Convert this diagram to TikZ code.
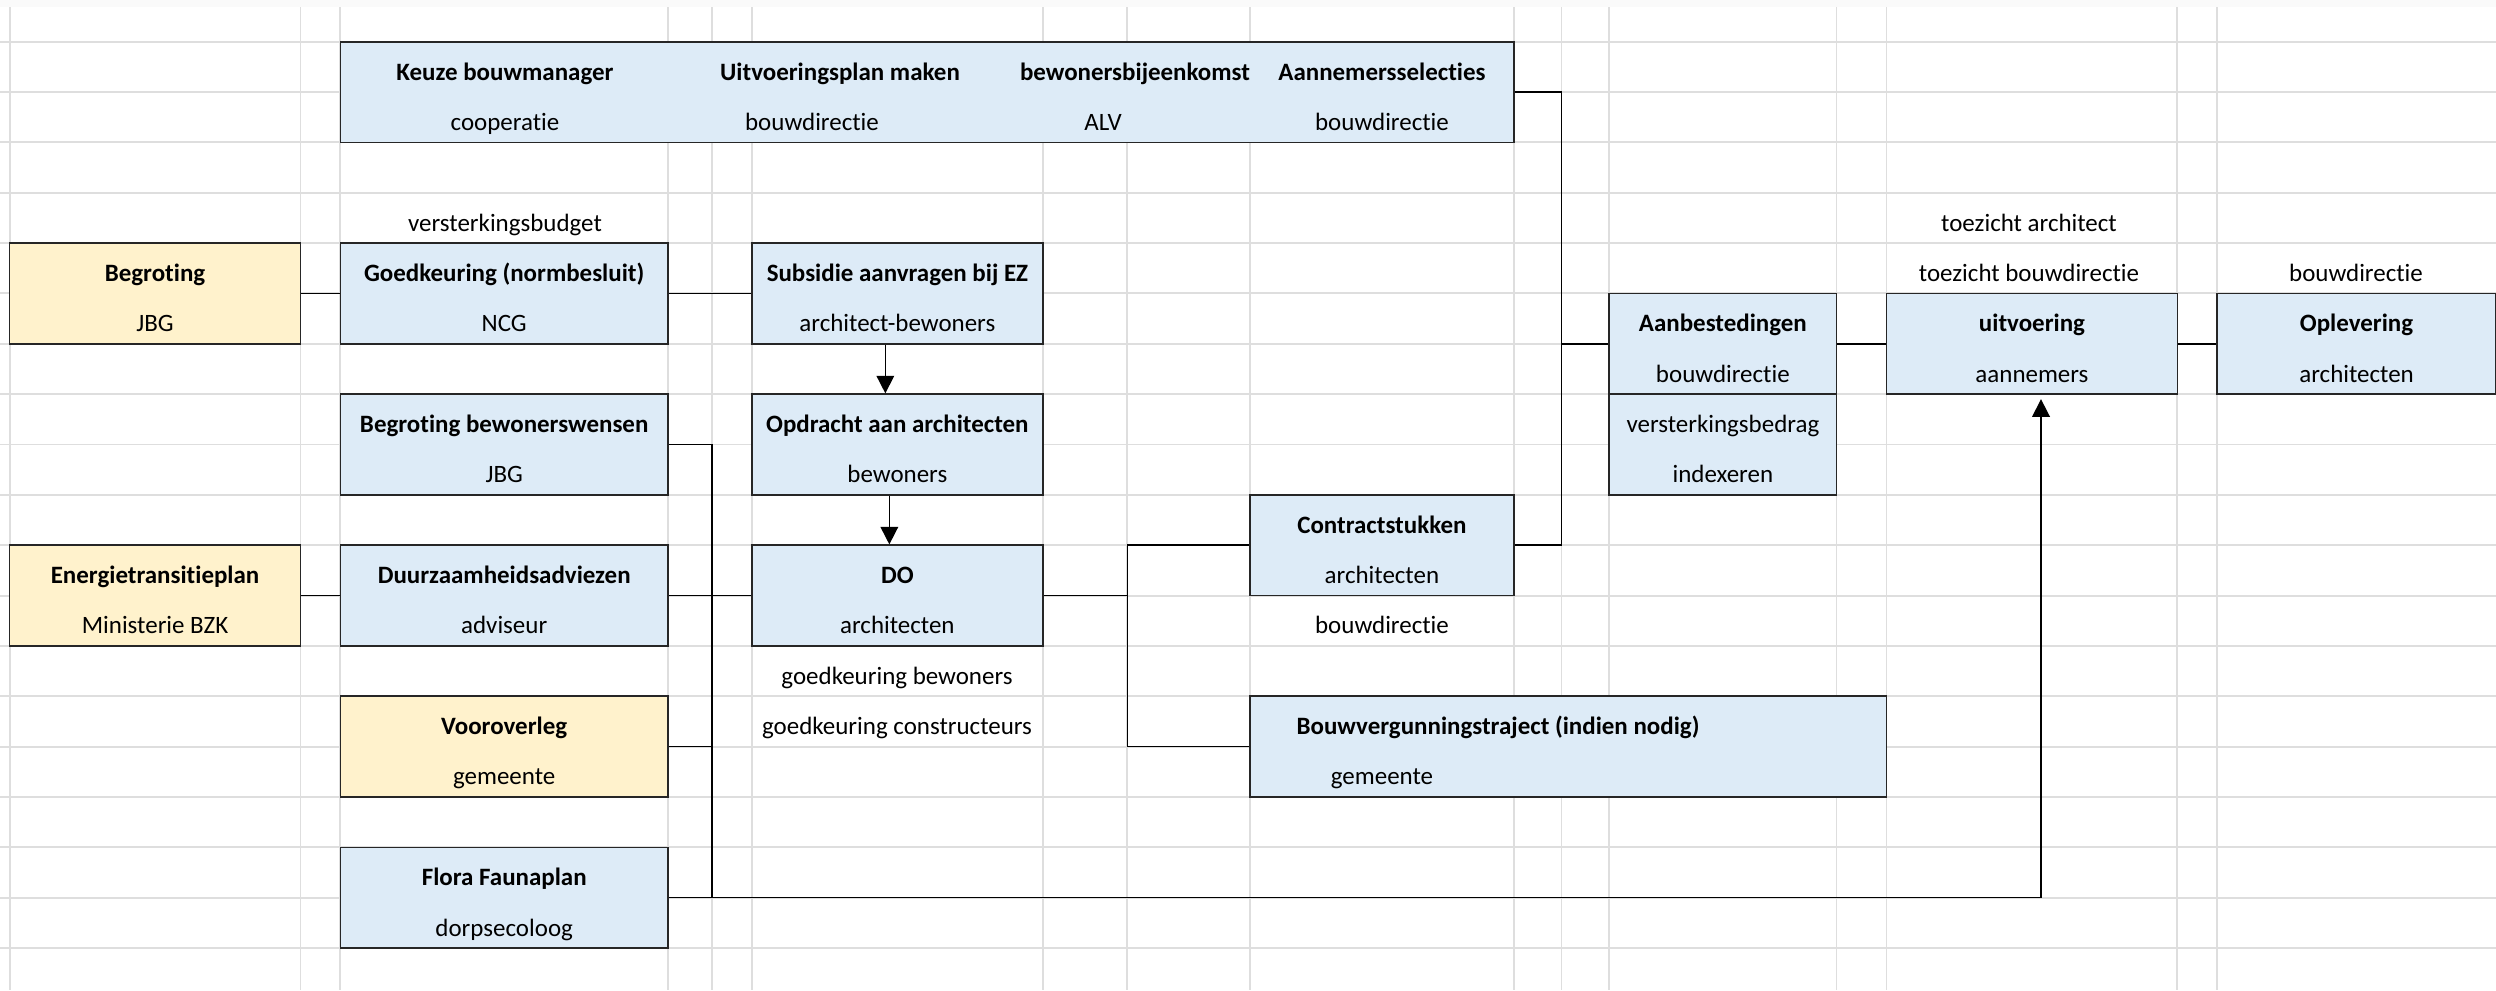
\documentclass[tikz,border=0pt]{standalone}
\usepackage{fontspec}
\setmainfont[Ligatures=NoCommon]{Carlito}
\usepackage{xcolor}
\usepackage{tikz}
\usetikzlibrary{positioning}
\usetikzlibrary{arrows.meta}
\usetikzlibrary{calc}
\definecolor{cellblue}{HTML}{DDEBF7}
\definecolor{cellyellow}{HTML}{FFF2CC}
\definecolor{gridgray}{HTML}{DEDEDE}
\tikzstyle{gridline}=[draw=gridgray,line width=0.55pt]
\tikzstyle{cell}=[rectangle,draw=black!85,line width=0.45pt,fill=cellblue,inner sep=0pt]
\tikzstyle{yellowcell}=[cell,fill=cellyellow]
\tikzstyle{ttlfont}=[font=\fontsize{7.1}{8.5}\selectfont\bfseries,anchor=base,inner sep=0pt]
\tikzstyle{orgfont}=[font=\fontsize{7.1}{8.5}\selectfont,anchor=base,inner sep=0pt]
\tikzstyle{link}=[draw,line width=0.45pt]
\tikzstyle{flow}=[draw,line width=0.45pt,-{Triangle[length=5pt,width=5pt]}]

\begin{document}
\begin{tikzpicture}[x=0.01cm,y=-0.01cm]

 \useasboundingbox (0,0) rectangle (2496,990);

 \def\ro{41.7};
 \def\rh{50.35};

 %sheet
 \fill[gray!4] (0,0) rectangle (2496,7);
 \foreach \k in {0,...,18}
    \path[gridline] (0,{\ro+\k*\rh}) -- (2496,{\ro+\k*\rh});
 \foreach \x in {9.6,300.5,340.4,668,712,752,1042.7,1127.2,1250,1513.8,1561.5,1609.2,1836.5,1886.5,2177.4,2217.1}
    \path[gridline] (\x,7) -- (\x,990);

 %top row
 \node[cell, minimum width={(1513.8-340.4)*0.01cm}, minimum height={2*\rh*0.01cm}] (top) at ({(340.4+1513.8)/2},{\ro+\rh}) {};

   \foreach \xt/\xo/\name/\ttl/\org in {505/505/keuze/Keuze bouwmanager/cooperatie, 840/812/uitvplan/Uitvoeringsplan maken/bouwdirectie, 1135/1103/bijeen/bewonersbijeenkomst/ALV, 1382/1382/selectie/Aannemersselecties/bouwdirectie}
   {
          \node[ttlfont] (\name-t) at (\xt,{\ro+\rh-12}) {\ttl};
          \node[orgfont] (\name-o) at (\xo,{\ro+2*\rh-12}) {\org};
   }

 %blue cells
   \foreach \xa/\xb/\k/\name/\ttl/\org in {340.4/668/4/goedk/Goedkeuring (normbesluit)/NCG, 752/1042.7/4/subs/Subsidie aanvragen bij EZ/architect-bewoners, 340.4/668/7/bewwens/Begroting bewonerswensen/JBG, 752/1042.7/7/opdr/Opdracht aan architecten/bewoners, 340.4/668/10/duurz/Duurzaamheidsadviezen/adviseur, 752/1042.7/10/do/DO/architecten, 340.4/668/16/flora/Flora Faunaplan/dorpsecoloog, 1250/1513.8/9/contr/Contractstukken/architecten, 1609.2/1836.5/5/aanb/Aanbestedingen/bouwdirectie, 1886.5/2177.4/5/uitv/uitvoering/aannemers, 2217.1/2496/5/oplev/Oplevering/architecten}
   {
          \node[cell, minimum width={(\xb-\xa)*0.01cm}, minimum height={2*\rh*0.01cm}] (\name) at ({(\xa+\xb)/2},{\ro+(\k+1)*\rh}) {};
          \node[ttlfont] (\name-t) at ({(\xa+\xb)/2},{\ro+(\k+1)*\rh-12}) {\ttl};
          \node[orgfont] (\name-o) at ({(\xa+\xb)/2},{\ro+(\k+2)*\rh-12}) {\org};
   }

 %yellow cells
   \foreach \xa/\xb/\k/\name/\ttl/\org in {9.6/300.5/4/begr/Begroting/JBG, 9.6/300.5/10/energ/Energietransitieplan/Ministerie BZK, 340.4/668/13/voor/Vooroverleg/gemeente}
   {
          \node[yellowcell, minimum width={(\xb-\xa)*0.01cm}, minimum height={2*\rh*0.01cm}] (\name) at ({(\xa+\xb)/2},{\ro+(\k+1)*\rh}) {};
          \node[ttlfont] (\name-t) at ({(\xa+\xb)/2},{\ro+(\k+1)*\rh-12}) {\ttl};
          \node[orgfont] (\name-o) at ({(\xa+\xb)/2},{\ro+(\k+2)*\rh-12}) {\org};
   }

 %aanbesteding extra
 \node[cell, minimum width={(1836.5-1609.2)*0.01cm}, minimum height={2*\rh*0.01cm}] (index) at ({(1609.2+1836.5)/2},{\ro+8*\rh}) {};
 \node[orgfont] (index-t) at (index.center |- 0,{\ro+8*\rh-12}) {versterkingsbedrag};
 \node[orgfont] (index-o) at (index.center |- 0,{\ro+9*\rh-12}) {indexeren};

 %bouwvergunning
 \node[cell, minimum width={(1886.5-1250)*0.01cm}, minimum height={2*\rh*0.01cm}] (bouwv) at ({(1250+1886.5)/2},{\ro+14*\rh}) {};
 \node[ttlfont] (bouwv-t) at (1498,{\ro+14*\rh-12}) {Bouwvergunningstraject (indien nodig)};
 \node[orgfont] (bouwv-o) at (1382,{\ro+15*\rh-12}) {gemeente};

 %loose texts
   \foreach \x/\k/\name/\txt in {505/3/budget/versterkingsbudget, 2029/3/tzarch/toezicht architect, 2029/4/tzbouw/toezicht bouwdirectie, 2356/4/oplbouw/bouwdirectie, 897/12/gkbew/goedkeuring bewoners, 897/13/gkcon/goedkeuring constructeurs, 1382/11/contrbouw/bouwdirectie}
          \node[orgfont] (\name) at (\x,{\ro+(\k+1)*\rh-12}) {\txt};

 %connectors
 \coordinate (lspine) at (712,0);
 \coordinate (mspine) at (1127.4,0);
 \coordinate (rspine) at (1561.5,0);
 \coordinate (floraend) at (2041,{\ro+17*\rh});

  \foreach \source/ \dest in {begr/goedk, goedk/subs, energ/duurz, duurz/do, aanb/uitv, uitv/oplev}
         \path[link] (\source.east) -- (\dest.west);

 \path[flow] ([xshift=-0.12cm]subs.south) -- ([xshift=-0.12cm]opdr.north);
 \path[flow] ([xshift=-0.08cm]opdr.south) -- ([xshift=-0.08cm]do.north);

 \path[link] (bewwens.east) -| (lspine |- flora.east);
 \path[link] (voor.east) -- (lspine |- voor.east);
 \path[flow, shorten >=1.2pt] (flora.east) -- (floraend) -- (floraend |- uitv.south);

 \path[link] (do.east) -- (do.east -| mspine);
 \path[link] (contr.west) -| (mspine |- bouwv.west) -- (bouwv.west);

 \path[link] (top.east) -| (rspine |- contr.east) -- (contr.east);
 \path[link] (rspine |- aanb.west) -- (aanb.west);

\end{tikzpicture}
\end{document}
